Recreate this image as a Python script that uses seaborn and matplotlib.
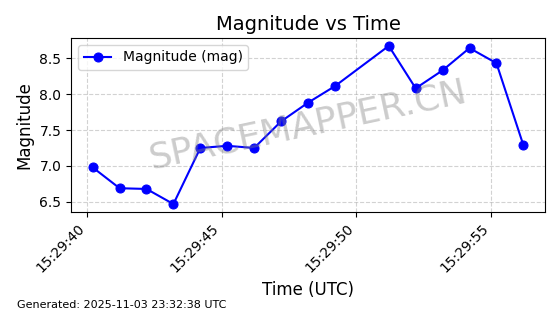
import matplotlib
matplotlib.use("Agg")
import matplotlib.pyplot as plt
import matplotlib.dates as mdates
import seaborn as sns
import pandas as pd

times = ["15:29:40.2", "15:29:41.2", "15:29:42.2", "15:29:43.2", "15:29:44.2",
         "15:29:45.2", "15:29:46.2", "15:29:47.2", "15:29:48.2", "15:29:49.2",
         "15:29:51.2", "15:29:52.2", "15:29:53.2", "15:29:54.2", "15:29:55.2",
         "15:29:56.2"]
magnitudes = [6.98, 6.69, 6.68, 6.47, 7.25, 7.28, 7.25, 7.62, 7.88, 8.11,
              8.67, 8.08, 8.33, 8.64, 8.43, 7.29]

df = pd.DataFrame({
    "time": pd.to_datetime(["2025-11-03 " + t for t in times]),
    "mag": magnitudes,
})

fig = plt.figure(figsize=(5.6, 3.14), dpi=100)
ax = fig.add_axes([0.127, 0.325, 0.846, 0.554])
sns.lineplot(data=df, x="time", y="mag", ax=ax, color="blue", marker="o",
             markersize=6.5, markeredgecolor="blue", linewidth=1.5,
             label="Magnitude (mag)")
ax.set_title("Magnitude vs Time", fontsize=14)
ax.set_xlabel("Time (UTC)", fontsize=12)
ax.set_ylabel("Magnitude", fontsize=12)
ax.grid(True, linestyle="--", color="gray", alpha=0.35)
ax.xaxis.set_major_locator(mdates.SecondLocator(bysecond=range(0, 60, 5)))
ax.xaxis.set_major_formatter(mdates.DateFormatter("%H:%M:%S"))
plt.setp(ax.get_xticklabels(), rotation=45, ha="right")
ax.legend(loc="upper left", fontsize=10)
ax.text(0.5, 0.5, "SPACEMAPPER.CN", transform=ax.transAxes, fontsize=26,
        color="gray", alpha=0.4, rotation=12, ha="center", va="center")
fig.text(0.03, 0.02, "Generated: 2025-11-03 23:32:38 UTC", fontsize=8)
fig.savefig("out.png", dpi=100)
